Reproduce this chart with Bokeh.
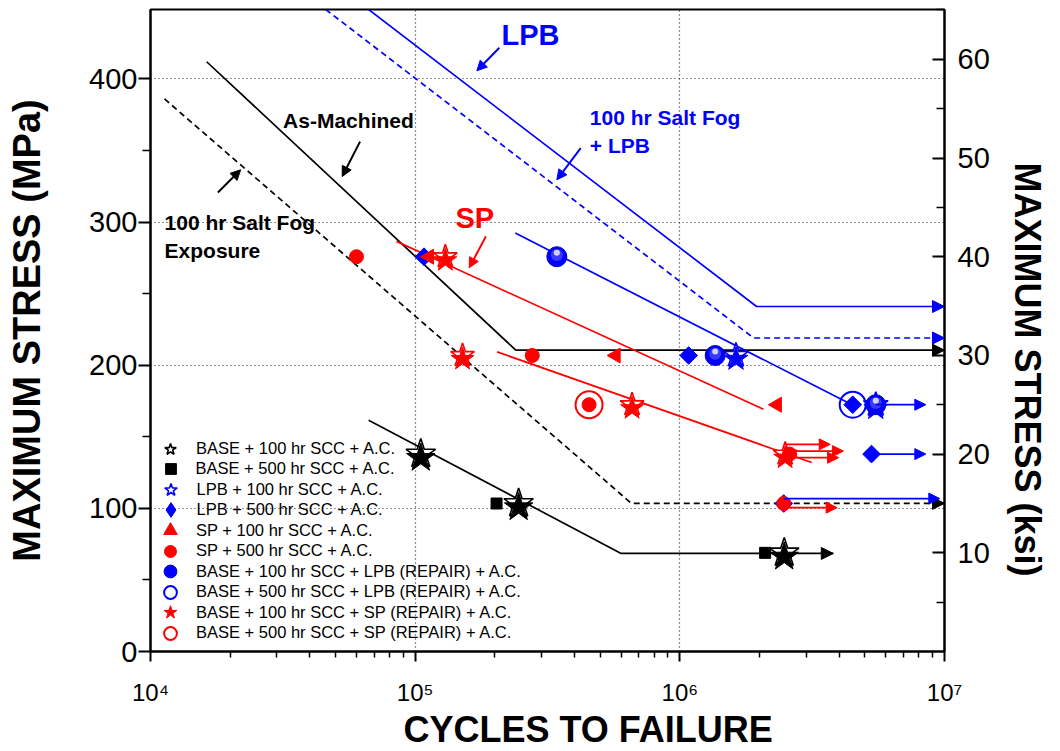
import numpy as np
from bokeh.plotting import figure
from bokeh.models import (Range1d, LinearAxis, FixedTicker, Arrow, NormalHead, Label, Title,
                          Legend, LegendItem, ColumnDataSource, CustomJSTickFormatter)
from bokeh.transform import dodge
from bokeh.embed import file_html
from bokeh.resources import INLINE

# ---------------- data: cycles to failure, maximum stress (MPa) ----------------
MPA_PER_KSI = 6.895

base100_n = [1.05e5, 2.46e5, 2.48e6]          # BASE + 100 hr SCC + A.C.
base100_s = [137.9, 103.4, 68.9]
base500_n = [2.03e5, 2.10e6]                  # BASE + 500 hr SCC + A.C.
base500_s = [103.4, 68.9]
lpb100_n = [1.63e6, 5.5e6]                    # LPB + 100 hr SCC + A.C.
lpb100_s = [206.8, 172.4]
lpb500_n = [1.08e5, 1.08e6, 4.5e6, 5.3e6, 2.47e6]   # LPB + 500 hr SCC + A.C.
lpb500_s = [275.8, 206.8, 172.4, 137.9, 103.4]
sp100_n = [1.13e5, 5.73e5, 2.33e6]            # SP + 100 hr SCC + A.C.
sp100_s = [275.8, 206.8, 172.4]
sp500_n = [6.0e4, 2.77e5, 4.54e5, 2.6e6, 2.47e6]    # SP + 500 hr SCC + A.C.
sp500_s = [275.8, 206.8, 172.4, 137.9, 103.4]
lpbrep100_n = [3.43e5, 1.36e6, 5.5e6]         # BASE + 100 hr SCC + LPB (REPAIR) + A.C.
lpbrep100_s = [275.8, 206.8, 172.4]
lpbrep500_n = [4.5e6]                         # BASE + 500 hr SCC + LPB (REPAIR) + A.C.
lpbrep500_s = [172.4]
sprep100_n = [1.3e5, 1.51e5, 6.6e5, 2.5e6]    # BASE + 100 hr SCC + SP (REPAIR) + A.C.
sprep100_s = [275.8, 206.8, 172.4, 137.9]
sprep500_n = [4.54e5]                         # BASE + 500 hr SCC + SP (REPAIR) + A.C.
sprep500_s = [172.4]

# design curves / trend lines
am_n = [1.63e4, 2.4e5, 1.0e7]        # As-Machined
am_s = [412.0, 210.5, 210.5]
sf_n = [1.13e4, 6.56e5, 1.0e7]       # 100 hr Salt Fog Exposure
sf_s = [386.0, 103.5, 103.5]
lpb_n = [6.0e4, 1.95e6, 1.0e7]       # LPB
lpb_s = [455.0, 241.0, 241.0]
sflpb_n = [4.0e4, 1.9e6, 1.0e7]      # 100 hr Salt Fog + LPB
sflpb_s = [457.0, 219.0, 219.0]
basefit_n = [6.67e4, 6.0e5, 3.8e6]   # BASE + SCC trend
basefit_s = [161.6, 68.5, 68.5]
lpbfit_n = [2.39e5, 4.4e6]
lpbfit_s = [292.3, 173.0]
spfit1_n = [8.5e4, 2.07e6]
spfit1_s = [286.5, 169.2]
spfit2_n = [2.04e5, 3.15e6]
spfit2_s = [209.3, 132.0]

# run-out arrows
ro_blue_n0 = [5.5e6, 5.3e6, 2.47e6]
ro_blue_n1 = [8.5e6, 8.5e6, 9.6e6]
ro_blue_s = [172.4, 137.9, 106.8]
ro_red_n0 = [2.5e6, 2.5e6, 2.5e6, 2.47e6]
ro_red_n1 = [3.7e6, 4.15e6, 3.98e6, 3.93e6]
ro_red_s = [144.7, 140.0, 135.4, 100.5]

# axes
x_lo, x_hi = 1e4, 1e7
y_lo, y_hi = 0.0, 448.5
x_ticks = [1e4, 1e5, 1e6, 1e7]
x_tick_labels = ["10\u2074", "10\u2075", "10\u2076", "10\u2077"]
x_minor = [m * d for d in (1e4, 1e5, 1e6) for m in range(2, 10)]
y_ticks = [0, 100, 200, 300, 400]
y_minor = [50, 150, 250, 350, 450]
ksi_ticks = [10, 20, 30, 40, 50, 60]
ksi_minor = [5, 15, 25, 35, 45, 55, 65]

# ---------------- figure ----------------
FONT = "Liberation Sans"
BLUE, RED, BLACK = "#0000ff", "#ff0000", "#000000"

p = figure(width=1060, height=751, x_axis_type="log",
           x_range=Range1d(x_lo, x_hi), y_range=Range1d(y_lo, y_hi),
           output_backend="svg", toolbar_location=None,
           min_border_left=150, min_border_right=114, min_border_top=9, min_border_bottom=99,
           background_fill_color="white", border_fill_color="white")
p.extra_y_ranges = {"ksi": Range1d(y_lo / MPA_PER_KSI, y_hi / MPA_PER_KSI)}

p.xgrid.ticker = FixedTicker(ticks=[1e5, 1e6])
p.ygrid.ticker = FixedTicker(ticks=[100, 200, 300, 400])
for g in (p.xgrid, p.ygrid):
    g.grid_line_color = "#222222"
    g.grid_line_dash = "1 3"
    g.grid_line_width = 1.2

p.outline_line_color = BLACK
p.outline_line_width = 2
p.outline_line_alpha = 1.0


def style_axis(ax, label_size):
    ax.axis_line_width = 2
    ax.axis_line_color = BLACK
    ax.major_tick_line_width = 2
    ax.minor_tick_line_width = 1.5
    ax.major_tick_line_color = BLACK
    ax.minor_tick_line_color = BLACK
    ax.major_label_text_font = FONT
    ax.major_label_text_font_size = label_size
    ax.major_label_text_color = BLACK
    ax.axis_label_text_font = FONT
    ax.axis_label_text_font_style = "bold"
    ax.axis_label_text_color = BLACK


xa = p.xaxis[0]
xa.ticker = FixedTicker(ticks=x_ticks, minor_ticks=x_minor)
xa.formatter = CustomJSTickFormatter(args=dict(xt=x_ticks, xl=x_tick_labels),
                                     code="""
    for (let i = 0; i < xt.length; i++) {
        if (Math.abs(Math.log10(tick) - Math.log10(xt[i])) < 1e-6) return xl[i];
    }
    return "";
""")
style_axis(xa, "24px")
xa.major_tick_out = 10
xa.major_tick_in = 0
xa.minor_tick_out = 6
xa.minor_tick_in = 0
xa.major_label_standoff = 17

ya = p.yaxis[0]
ya.ticker = FixedTicker(ticks=y_ticks, minor_ticks=y_minor)
style_axis(ya, "29px")
ya.major_tick_out = 12
ya.major_tick_in = 0
ya.minor_tick_out = 8
ya.minor_tick_in = 0
ya.major_label_standoff = 1
ya.axis_label = "MAXIMUM STRESS (MPa)"
ya.axis_label_text_font_size = "38px"
ya.axis_label_standoff = 38

ra = LinearAxis(y_range_name="ksi",
                ticker=FixedTicker(ticks=ksi_ticks, minor_ticks=ksi_minor))
style_axis(ra, "29px")
ra.major_tick_in = 12
ra.major_tick_out = 0
ra.minor_tick_in = 8
ra.minor_tick_out = 0
ra.major_label_standoff = 13
p.add_layout(ra, "right")

# axis titles placed in the side panels with offsets like the original
p.add_layout(Title(text="CYCLES TO FAILURE", align="left", offset=253, standoff=0,
                   vertical_align="top",
                   text_font=FONT, text_font_size="36px", text_font_style="bold",
                   text_color=BLACK), "below")
p.add_layout(Title(text="MAXIMUM STRESS (ksi)", align="left", offset=153, standoff=25,
                   vertical_align="top",
                   text_font=FONT, text_font_size="36px", text_font_style="bold",
                   text_color=BLACK), "right")


def head(color, size=11):
    return NormalHead(size=size, fill_color=color, line_color=color, line_width=1)


# ---------------- curves ----------------
curves = [
    (am_n, am_s, BLACK, "solid", True),
    (sf_n, sf_s, BLACK, "6 4", True),
    (lpb_n, lpb_s, BLUE, "solid", True),
    (sflpb_n, sflpb_s, BLUE, "6 4", True),
    (basefit_n, basefit_s, BLACK, "solid", True),
    (lpbfit_n, lpbfit_s, BLUE, "solid", False),
    (spfit1_n, spfit1_s, RED, "solid", False),
    (spfit2_n, spfit2_s, RED, "solid", False),
]
for n, s, c, dash, arrow in curves:
    p.line(n, s, line_color=c, line_width=1.7, line_dash=dash)
    if arrow:
        p.add_layout(Arrow(end=head(c, 12), x_start=n[-2], y_start=s[-2],
                           x_end=n[-1], y_end=s[-1], line_alpha=0))

# run-out arrows
for n0, n1, s, c in ((ro_blue_n0, ro_blue_n1, ro_blue_s, BLUE),
                     (ro_red_n0, ro_red_n1, ro_red_s, RED)):
    src = ColumnDataSource(dict(x0=n0, x1=n1, y=s))
    p.add_layout(Arrow(end=head(c, 11), x_start="x0", y_start="y", x_end="x1", y_end="y",
                       source=src, line_color=c, line_width=1.7))

# ---------------- markers ----------------
def src(n, s):
    return ColumnDataSource(dict(n=n, s=s))


# narrow diamond (legend key) hidden under the square-diamond markers
r_lpb500_key = p.scatter("n", "s", source=src(lpb500_n, lpb500_s), marker="diamond", size=14,
                         fill_color=BLUE, line_color=BLUE)
r_lpb500 = p.scatter("n", "s", source=src(lpb500_n, lpb500_s), marker="square",
                     angle=np.pi / 4, size=12.5, fill_color=BLUE, line_color=BLUE)

r_lpb100 = p.scatter("n", "s", source=src(lpb100_n, lpb100_s), marker="star", size=26,
                     fill_color="white", line_color=BLUE, line_width=1.6)
p.scatter("n", dodge("s", -2.6, range=p.y_range), source=src(lpb100_n, lpb100_s),
          marker="star", size=25, fill_color=BLUE, line_color=BLUE)

r_base100 = p.scatter("n", "s", source=src(base100_n, base100_s), marker="star", size=31,
                      fill_color="white", line_color=BLACK, line_width=1.6)
p.scatter("n", dodge("s", -2.8, range=p.y_range), source=src(base100_n, base100_s),
          marker="star", size=30, fill_color=BLACK, line_color=BLACK)

r_base500 = p.scatter("n", "s", source=src(base500_n, base500_s), marker="square", size=11,
                      fill_color=BLACK, line_color=BLACK)

r_sp100 = p.scatter("n", "s", source=src(sp100_n, sp100_s), marker="triangle",
                    angle=np.pi / 2, size=15, fill_color=RED, line_color=RED)

p.scatter("n", "s", source=src(sprep100_n, sprep100_s), marker="star",
          size=25, fill_color="white", line_color=RED, line_width=1.6)
r_sprep100 = p.scatter("n", dodge("s", -2.6, range=p.y_range), source=src(sprep100_n, sprep100_s),
                       marker="star", size=24, fill_color=RED, line_color=RED)

r_sp500 = p.scatter("n", "s", source=src(sp500_n, sp500_s), marker="circle", size=14,
                    fill_color=RED, line_color=RED)

r_lpbrep100 = p.scatter("n", "s", source=src(lpbrep100_n, lpbrep100_s), marker="circle",
                        size=20, fill_color=BLUE, line_color="#0000cc")
p.scatter("n", dodge("s", 1.2, range=p.y_range), source=src(lpbrep100_n, lpbrep100_s),
          marker="circle", size=12, fill_color="#3a3aff", line_alpha=0)
p.scatter("n", dodge("s", 2.8, range=p.y_range), source=src(lpbrep100_n, lpbrep100_s),
          marker="circle", size=6, fill_color="#d0d0ff", line_alpha=0)

r_lpbrep500 = p.scatter("n", "s", source=src(lpbrep500_n, lpbrep500_s), marker="circle",
                        size=26, fill_alpha=0, line_color=BLUE, line_width=2)
r_sprep500 = p.scatter("n", "s", source=src(sprep500_n, sprep500_s), marker="circle",
                       size=27, fill_alpha=0, line_color=RED, line_width=2)

# ---------------- annotations ----------------
def txt(x, y, text, size, color):
    p.add_layout(Label(x=x, y=y, text=text, text_font=FONT, text_font_size=size,
                       text_font_style="bold", text_color=color,
                       text_align="left", text_baseline="middle"))


def pointer(x0, y0, x1, y1, color):
    p.add_layout(Arrow(end=head(color, 10), x_start=x0, y_start=y0, x_end=x1, y_end=y1,
                       line_color=color, line_width=2))


txt(2.12e5, 430.8, "LPB", "29px", BLUE)
pointer(2.08e5, 421.8, 1.71e5, 405.7, BLUE)
txt(1.42e5, 303.0, "SP", "29px", RED)
pointer(1.85e5, 290.0, 1.6e5, 268.0, RED)
txt(3.17e4, 370.7, "As-Machined", "21px", BLACK)
pointer(6.19e4, 356.2, 5.3e4, 331.8, BLACK)
txt(1.13e4, 299.8, "100 hr Salt Fog", "21px", BLACK)
txt(1.13e4, 280.3, "Exposure", "21px", BLACK)
pointer(1.797e4, 320.6, 2.19e4, 336.5, BLACK)
txt(4.57e5, 373.0, "100 hr Salt Fog", "21px", BLUE)
txt(4.57e5, 353.3, "+ LPB", "21px", BLUE)
pointer(4.22e5, 351.6, 3.43e5, 329.5, BLUE)

# ---------------- legend (one row per entry, rows 20.45 px apart) ----------------
legend_rows = [
    ("BASE + 100 hr SCC + A.C.", r_base100, 30),
    ("BASE + 500 hr SCC + A.C.", r_base500, 27),
    ("LPB + 100 hr SCC + A.C.", r_lpb100, 33),
    ("LPB + 500 hr SCC + A.C.", r_lpb500_key, 37),
    ("SP + 100 hr SCC + A.C.", r_sp100, 34),
    ("SP + 500 hr SCC + A.C.", r_sp500, 30),
    ("BASE + 100 hr SCC + LPB (REPAIR) + A.C.", r_lpbrep100, 32),
    ("BASE + 500 hr SCC + LPB (REPAIR) + A.C.", r_lpbrep500, 32),
    ("BASE + 100 hr SCC + SP (REPAIR) + A.C.", r_sprep100, 34),
    ("BASE + 500 hr SCC + SP (REPAIR) + A.C.", r_sprep500, 32),
]
FRAME_LEFT, FRAME_BOTTOM = 150.0, 652.5
KEY_X, TEXT_X, ROW0_Y, ROW_STEP = 170.0, 196.0, 450.0, 20.45
for i, (lab, rend, box) in enumerate(legend_rows):
    cy = ROW0_Y + i * ROW_STEP
    leg = Legend(items=[LegendItem(label=lab, renderers=[rend])],
                 location=(round(KEY_X - box / 2 - FRAME_LEFT, 1),
                           round(FRAME_BOTTOM - (cy + box / 2), 1)),
                 glyph_width=box, glyph_height=box, label_height=10, spacing=0,
                 label_standoff=int(round(TEXT_X - KEY_X - box / 2)),
                 label_text_font=FONT, label_text_font_size="16.5px",
                 label_text_color=BLACK, padding=0, margin=0,
                 border_line_alpha=0, background_fill_alpha=0)
    p.add_layout(leg)

with open("out.html", "w", encoding="utf-8") as f:
    f.write(file_html(p, INLINE))
